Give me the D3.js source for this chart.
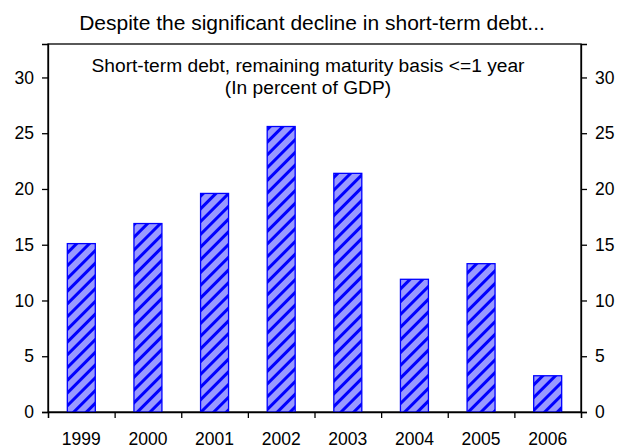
<!DOCTYPE html>
<html><head><meta charset="utf-8">
<script src="https://cdn.jsdelivr.net/npm/d3@7"></script>
<style>body{margin:0;background:#fff}svg{display:block}text{font-family:Arial,"Liberation Sans",sans-serif;fill:#000}</style>
</head><body>
<svg id="c" width="618" height="447"></svg>
<script>
const years = ["1999","2000","2001","2002","2003","2004","2005","2006"];
const shortTermDebt = [15.1, 16.9, 19.6, 25.6, 21.4, 11.9, 13.3, 3.25];
const yTicks = [0,5,10,15,20,25,30];
const title = "Despite the significant decline in short-term debt...";
const subtitle1 = "Short-term debt, remaining maturity basis <=1 year";
const subtitle2 = "(In percent of GDP)";

const svg = d3.select("#c");
const L=48, R=581, T=44, B=412;
const x = d3.scaleBand().domain(years).range([L,R]).paddingInner(0.58).paddingOuter(0.29);
const xb = d3.scaleLinear().domain([0, years.length]).range([L,R]);
const y = d3.scaleLinear().domain([0,33]).range([B,T]);

const defs = svg.append("defs");
const pat = defs.append("pattern").attr("id","hatch").attr("patternUnits","userSpaceOnUse")
  .attr("width",9).attr("height",9).attr("patternTransform","rotate(45)");
pat.append("rect").attr("width",9).attr("height",9).attr("fill","#9999ff");
pat.append("rect").attr("x",0).attr("width",3).attr("height",9).attr("fill","#0000ff");

// frame
svg.append("rect").attr("x",L).attr("y",T).attr("width",R-L).attr("height",B-T)
  .attr("fill","none").attr("stroke","#000").attr("stroke-width",1.3);

svg.append("g").selectAll("rect").data(years).join("rect")
  .attr("x",d=>x(d)).attr("width",x.bandwidth())
  .attr("y",(d,i)=>y(shortTermDebt[i])).attr("height",(d,i)=>B-y(shortTermDebt[i]))
  .attr("fill","url(#hatch)").attr("stroke","#0000ff").attr("stroke-width",1.3);

const fs = "17.5px";
const yl = svg.append("g").attr("transform",`translate(${L},0)`)
  .call(d3.axisLeft(y).tickValues(yTicks).tickSize(6).tickPadding(8));
const yr = svg.append("g").attr("transform",`translate(${R},0)`)
  .call(d3.axisRight(y).tickValues(yTicks).tickSize(6).tickPadding(8));
const xa = svg.append("g").attr("transform",`translate(0,${B})`)
  .call(d3.axisBottom(xb).tickValues(d3.range(years.length+1)).tickSize(6).tickFormat(""));
[yl,yr,xa].forEach(g=>{
  g.select(".domain").attr("stroke","#000").attr("stroke-width",1.3);
  g.selectAll(".tick line").attr("stroke","#000").attr("stroke-width",1.3);
  g.selectAll("text").style("font-size",fs).attr("font-family","Arial, 'Liberation Sans', sans-serif").attr("fill","#000");
});
svg.append("g").selectAll("text").data(years).join("text")
  .attr("x",d=>x(d)+x.bandwidth()/2).attr("y",444.5).attr("text-anchor","middle")
  .style("font-size",fs).text(d=>d);

svg.append("text").attr("x",312).attr("y",30).attr("text-anchor","middle").style("font-size","21px").text(title);
svg.append("text").attr("x",308).attr("y",71.5).attr("text-anchor","middle").style("font-size","19.2px").text(subtitle1);
svg.append("text").attr("x",308).attr("y",93.5).attr("text-anchor","middle").style("font-size","19.2px").text(subtitle2);
</script>
</body></html>
